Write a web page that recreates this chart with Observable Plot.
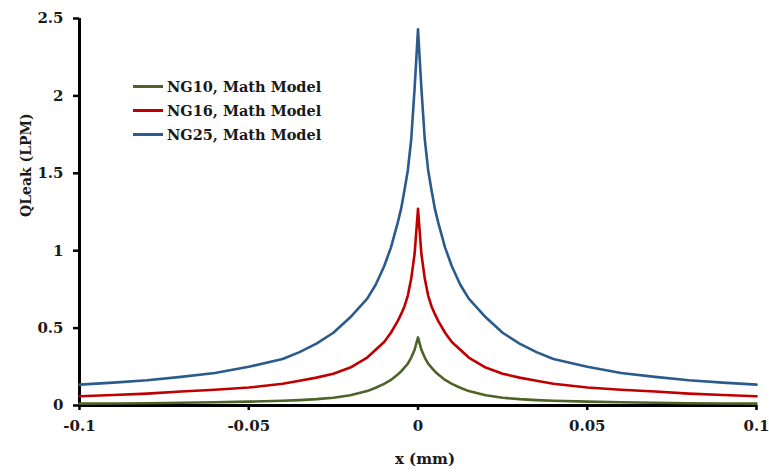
<!DOCTYPE html>
<html>
<head>
<meta charset="utf-8">
<script src="https://cdn.jsdelivr.net/npm/d3@7"></script>
<script src="https://cdn.jsdelivr.net/npm/@observablehq/plot@0.6"></script>
<style>
  body { margin: 0; background: #fff; }
  #chart { position: relative; width: 769px; height: 472px; }
  .legend { position: absolute; left: 133px; top: 75px; font-family: "DejaVu Serif", serif; font-weight: bold; font-size: 14.5px; color: #1a1a1a; }
  .legend .row { display: flex; align-items: center; height: 23.7px; white-space: nowrap; }
  .legend .sw { width: 30px; height: 3px; margin-right: 4px; }
</style>
</head>
<body>
<div id="chart"></div>
<script>
// Position along the seal, mm
const xPos = [
  -0.1, -0.09, -0.08, -0.07, -0.06, -0.05, -0.04, -0.035, -0.03, -0.025, -0.02,
  -0.015, -0.0125, -0.01, -0.008, -0.006, -0.005, -0.004, -0.003, -0.002, -0.001,
  0,
  0.001, 0.002, 0.003, 0.004, 0.005, 0.006, 0.008, 0.01, 0.0125, 0.015,
  0.02, 0.025, 0.03, 0.035, 0.04, 0.05, 0.06, 0.07, 0.08, 0.09, 0.1
];

// Leakage flow, LPM
const ng10 = [
  0.012, 0.013, 0.015, 0.018, 0.021, 0.025, 0.031, 0.035, 0.041, 0.05, 0.066,
  0.093, 0.115, 0.14, 0.165, 0.2, 0.22, 0.245, 0.27, 0.31, 0.36,
  0.44,
  0.36, 0.31, 0.27, 0.245, 0.22, 0.2, 0.165, 0.14, 0.115, 0.093,
  0.066, 0.05, 0.041, 0.035, 0.031, 0.025, 0.021, 0.018, 0.015, 0.013, 0.012
];
const ng16 = [
  0.06, 0.068, 0.077, 0.09, 0.102, 0.116, 0.14, 0.16, 0.18, 0.205, 0.245,
  0.31, 0.36, 0.41, 0.47, 0.545, 0.59, 0.64, 0.71, 0.82, 0.98,
  1.27,
  0.98, 0.82, 0.71, 0.64, 0.59, 0.545, 0.47, 0.41, 0.36, 0.31,
  0.245, 0.205, 0.18, 0.16, 0.14, 0.116, 0.102, 0.09, 0.077, 0.068, 0.06
];
const ng25 = [
  0.135, 0.148, 0.163, 0.185, 0.21, 0.25, 0.3, 0.345, 0.4, 0.47, 0.57,
  0.69, 0.78, 0.9, 1.02, 1.18, 1.27, 1.39, 1.52, 1.72, 2.05,
  2.43,
  2.05, 1.72, 1.52, 1.39, 1.27, 1.18, 1.02, 0.9, 0.78, 0.69,
  0.57, 0.47, 0.4, 0.345, 0.3, 0.25, 0.21, 0.185, 0.163, 0.148, 0.135
];

const seriesNames = ["NG10, Math Model", "NG16, Math Model", "NG25, Math Model"];
const seriesColors = ["#4f6228", "#c00000", "#2b5b8c"];

const xTicks = [-0.1, -0.05, 0, 0.05, 0.1];
const xTickLabels = ["-0.1", "-0.05", "0", "0.05", "0.1"];
const yTicks = [0, 0.5, 1, 1.5, 2, 2.5];
const yTickLabels = ["0", "0.5", "1", "1.5", "2", "2.5"];
const xTitle = "x (mm)";
const yTitle = "QLeak (LPM)";

const seriesValues = [ng10, ng16, ng25];
const rows = seriesNames.flatMap((name, s) =>
  xPos.map((x, i) => ({series: name, x, q: seriesValues[s][i]}))
);

const chart = Plot.plot({
  width: 769,
  height: 472,
  marginLeft: 79,
  marginRight: 13,
  marginTop: 18,
  marginBottom: 67,
  style: {fontFamily: "DejaVu Serif", fontWeight: "bold", color: "#1a1a1a", background: "#fff"},
  x: {domain: [-0.1, 0.1]},
  y: {domain: [0, 2.5]},
  color: {domain: seriesNames, range: seriesColors},
  marks: [
    Plot.axisY(yTicks, {
      tickSize: 6, tickPadding: 10, strokeWidth: 2.5, stroke: "#000", fontSize: 15,
      tickFormat: (d, i) => yTickLabels[i],
      label: null
    }),
    Plot.axisX(xTicks, {
      tickSize: 5, tickPadding: 10, strokeWidth: 2.5, stroke: "#000", fontSize: 15,
      tickFormat: (d, i) => xTickLabels[i],
      label: null
    }),
    // axis titles
    Plot.text([yTitle], {frameAnchor: "left", rotate: -90, dx: -53, dy: 5, fontSize: 14, fill: "#1a1a1a"}),
    Plot.text([xTitle], {frameAnchor: "bottom", dx: 7, dy: 58, fontSize: 15, fill: "#1a1a1a"}),
    Plot.ruleX([-0.1], {stroke: "#000", strokeWidth: 3}),
    Plot.ruleY([0], {stroke: "#000", strokeWidth: 3}),
    Plot.line(rows, {x: "x", y: "q", z: "series", stroke: "series", strokeWidth: 2.6, curve: "linear"})
  ]
});
document.getElementById("chart").appendChild(chart);

// Legend inside the plot area
const legend = document.createElement("div");
legend.className = "legend";
seriesNames.forEach((name, i) => {
  const row = document.createElement("div");
  row.className = "row";
  const sw = document.createElement("span");
  sw.className = "sw";
  sw.style.background = seriesColors[i];
  const label = document.createElement("span");
  label.textContent = name;
  row.appendChild(sw);
  row.appendChild(label);
  legend.appendChild(row);
});
document.getElementById("chart").appendChild(legend);
</script>
</body>
</html>
